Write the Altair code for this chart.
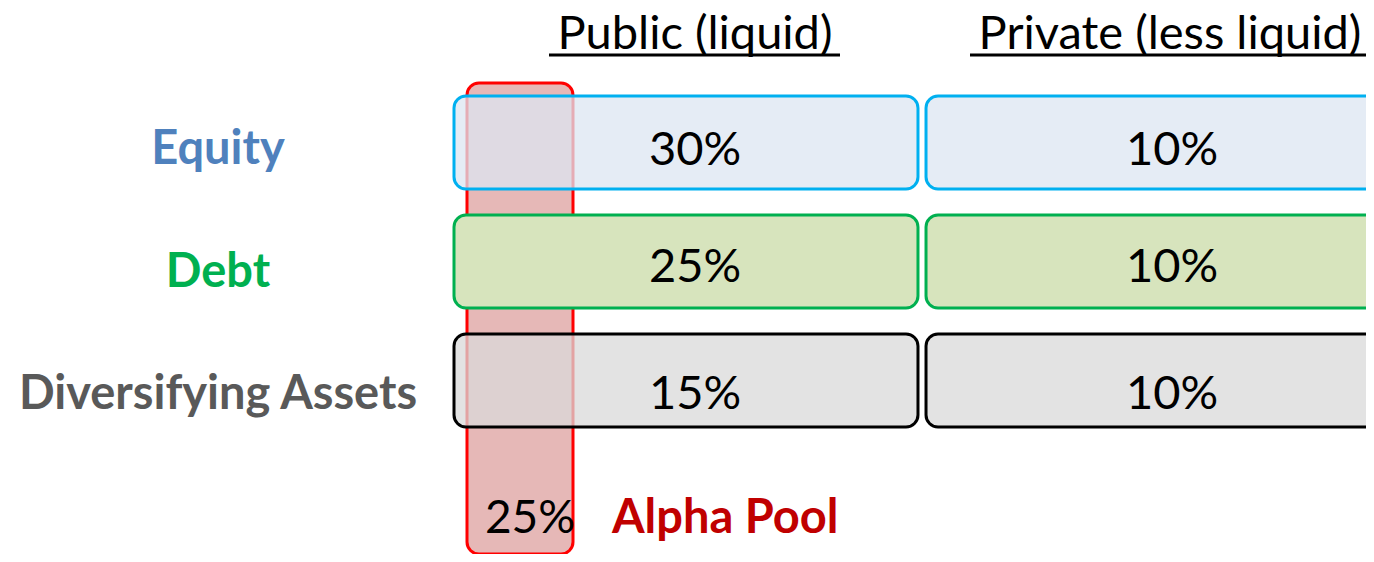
import altair as alt
import pandas as pd

# ---- data ----
columns = ["Public (liquid)", "Private (less liquid)"]
rows = ["Equity", "Debt", "Diversifying Assets"]
public_pct = ["30%", "25%", "15%"]
private_pct = ["10%", "10%", "10%"]
alpha_label = "Alpha Pool"
alpha_pct = "25%"

row_colors = ["#4f81bd", "#00b050", "#595959"]
box_fills = ["#dce6f2", "#d7e4bd", "#d9d9d9"]
box_strokes = ["#00b0f0", "#00b050", "#000000"]
box_opacity = [0.75, 1.0, 0.75]

cells = pd.DataFrame(
    [{"row": r, "col": columns[0], "pct": p} for r, p in zip(rows, public_pct)]
    + [{"row": r, "col": columns[1], "pct": p} for r, p in zip(rows, private_pct)]
)
row_df = pd.DataFrame({"row": rows})
col_df = pd.DataFrame({"col": columns})
alpha_df = pd.DataFrame({"row": [alpha_label], "col": [columns[0]], "label": [alpha_label], "pct": [alpha_pct]})

FONT = "Lato"
y_domain = rows + [alpha_label]

xscale = alt.Scale(domain=columns, range=[0, 936], paddingInner=8 / 470, paddingOuter=0)
yscale = alt.Scale(domain=y_domain, paddingInner=0.218, paddingOuter=0)

X = alt.X("col:N", scale=xscale, axis=None)
Y = alt.Y("row:N", scale=yscale, axis=None)

layers = []

# alpha pool column (behind the boxes)
layers.append(
    alt.Chart(alpha_df).mark_rect(
        fill="#e6b8b7", stroke="#ff0000", strokeWidth=3, cornerRadius=12
    ).encode(x=alt.value(13), x2=alt.value(119), y=alt.value(-13), y2=alt.value(458))
)

# boxes (one layer per asset row)
for r, op in zip(rows, box_opacity):
    layers.append(
        alt.Chart(cells).transform_filter(alt.datum.row == r).mark_rect(
            cornerRadius=12, strokeWidth=3, fillOpacity=op
        ).encode(
            x=X, y=Y,
            fill=alt.Fill("row:N", scale=alt.Scale(domain=rows, range=box_fills), legend=None),
            stroke=alt.Stroke("row:N", scale=alt.Scale(domain=rows, range=box_strokes), legend=None),
        )
    )

pct_dy = {"Equity": 22, "Debt": 20, "Diversifying Assets": 29}
lab_dy = {"Equity": 21, "Debt": 25, "Diversifying Assets": 29}
col_dx = {columns[0]: 9, columns[1]: 14}

for c in columns:
    for r in rows:
        layers.append(
            alt.Chart(cells).transform_filter(
                (alt.datum.row == r) & (alt.datum.col == c)
            ).mark_text(
                font=FONT, fontSize=47, color="#000000", baseline="alphabetic",
                align="center", dx=col_dx[c], dy=pct_dy[r]
            ).encode(x=X, y=Y, text="pct:N")
        )

# row labels
for r in rows:
    layers.append(
        alt.Chart(row_df).transform_filter(alt.datum.row == r).mark_text(
            font=FONT, fontSize=47, fontWeight="bold", baseline="alphabetic",
            align="center", dy=lab_dy[r]
        ).encode(
            x=alt.value(-236), y=Y, text="row:N",
            color=alt.Color("row:N", scale=alt.Scale(domain=rows, range=row_colors), legend=None),
        )
    )

# column headers
head_dx = {columns[0]: 9, columns[1]: 12}
for c in columns:
    layers.append(
        alt.Chart(col_df).transform_filter(alt.datum.col == c).mark_text(
            font=FONT, fontSize=47, color="#000000", baseline="alphabetic",
            align="center", dx=head_dx[c]
        ).encode(x=X, y=alt.value(-47), text="col:N")
    )

# header underlines
layers.append(
    alt.Chart(col_df).transform_filter(alt.datum.col == columns[0]).mark_rule(
        color="#000000", strokeWidth=3
    ).encode(x=alt.value(95), x2=alt.value(386), y=alt.value(-41))
)
layers.append(
    alt.Chart(col_df).transform_filter(alt.datum.col == columns[1]).mark_rule(
        color="#000000", strokeWidth=3
    ).encode(x=alt.value(516), x2=alt.value(920), y=alt.value(-41))
)

# alpha pool annotation
layers.append(
    alt.Chart(alpha_df).mark_text(
        font=FONT, fontSize=46, color="#000000", baseline="alphabetic",
        align="center", dx=-156, dy=34
    ).encode(x=X, y=Y, text="pct:N")
)
layers.append(
    alt.Chart(alpha_df).mark_text(
        font=FONT, fontSize=47, fontWeight="bold", color="#c00000", baseline="alphabetic",
        align="left", dx=-74, dy=34
    ).encode(x=X, y=Y, text="label:N")
)

chart = alt.layer(*layers).properties(
    width=912, height=450,
    padding={"left": 446, "top": 88, "right": 0, "bottom": 8},
    autosize=alt.AutoSizeParams(type="none"),
    background="#ffffff",
).configure_view(stroke=None)

chart.save("out.html", embed_options={"renderer": "svg", "actions": False})
